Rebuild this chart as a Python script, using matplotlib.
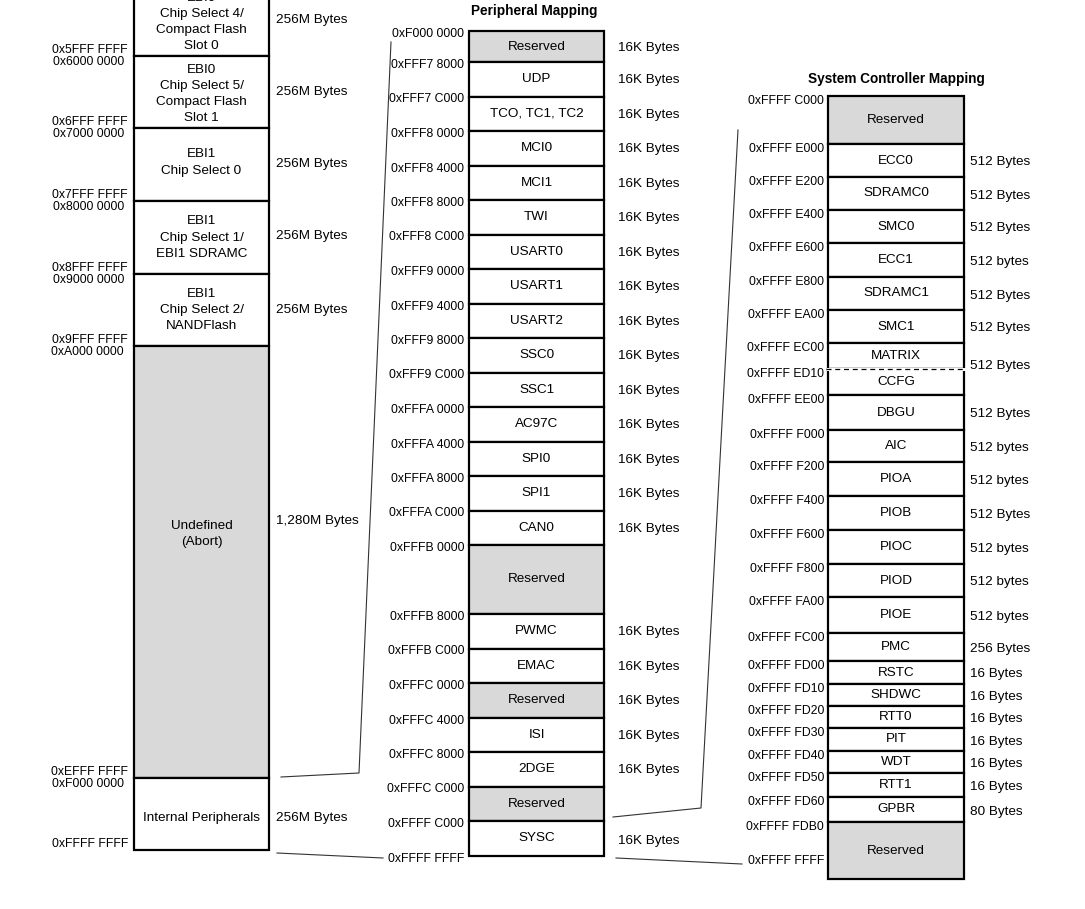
import matplotlib
matplotlib.use('Agg')
import matplotlib.pyplot as plt
from matplotlib.patches import Rectangle

plt.rcParams['font.family'] = ['Liberation Sans', 'DejaVu Sans']

# ---------------- data ----------------
# overall memory map (left column)
left_names = ['EBI0\nChip Select 4/\nCompact Flash\nSlot 0',
              'EBI0\nChip Select 5/\nCompact Flash\nSlot 1',
              'EBI1\nChip Select 0',
              'EBI1\nChip Select 1/\nEBI1 SDRAMC',
              'EBI1\nChip Select 2/\nNANDFlash',
              'Undefined\n(Abort)',
              'Internal Peripherals']
left_sizes = ['256M Bytes', '256M Bytes', '256M Bytes', '256M Bytes',
              '256M Bytes', '1,280M Bytes', '256M Bytes']
left_reserved = [False, False, False, False, False, True, False]
left_start = ['', '0x6000 0000', '0x7000 0000', '0x8000 0000',
              '0x9000 0000', '0xA000 0000', '0xF000 0000']
left_end = ['0x5FFF FFFF', '0x6FFF FFFF', '0x7FFF FFFF', '0x8FFF FFFF',
            '0x9FFF FFFF', '0xEFFF FFFF', '0xFFFF FFFF']

# peripheral mapping (middle column)
periph_names = ['Reserved', 'UDP', 'TCO, TC1, TC2', 'MCI0', 'MCI1', 'TWI',
                'USART0', 'USART1', 'USART2', 'SSC0', 'SSC1', 'AC97C',
                'SPI0', 'SPI1', 'CAN0', 'Reserved', 'PWMC', 'EMAC',
                'Reserved', 'ISI', '2DGE', 'Reserved', 'SYSC']
periph_start = ['0xF000 0000', '0xFFF7 8000', '0xFFF7 C000', '0xFFF8 0000',
                '0xFFF8 4000', '0xFFF8 8000', '0xFFF8 C000', '0xFFF9 0000',
                '0xFFF9 4000', '0xFFF9 8000', '0xFFF9 C000', '0xFFFA 0000',
                '0xFFFA 4000', '0xFFFA 8000', '0xFFFA C000', '0xFFFB 0000',
                '0xFFFB 8000', '0xFFFB C000', '0xFFFC 0000', '0xFFFC 4000',
                '0xFFFC 8000', '0xFFFC C000', '0xFFFF C000']
periph_last = '0xFFFF FFFF'
periph_sizes = ['16K Bytes'] * 15 + [''] + ['16K Bytes'] * 5 + ['', '16K Bytes']

# system controller mapping (right column)
sys_names = ['Reserved', 'ECC0', 'SDRAMC0', 'SMC0', 'ECC1', 'SDRAMC1', 'SMC1',
             'MATRIX', 'CCFG', 'DBGU', 'AIC', 'PIOA', 'PIOB', 'PIOC', 'PIOD',
             'PIOE', 'PMC', 'RSTC', 'SHDWC', 'RTT0', 'PIT', 'WDT', 'RTT1',
             'GPBR', 'Reserved']
sys_start = ['0xFFFF C000', '0xFFFF E000', '0xFFFF E200', '0xFFFF E400',
             '0xFFFF E600', '0xFFFF E800', '0xFFFF EA00', '0xFFFF EC00',
             '0xFFFF ED10', '0xFFFF EE00', '0xFFFF F000', '0xFFFF F200',
             '0xFFFF F400', '0xFFFF F600', '0xFFFF F800', '0xFFFF FA00',
             '0xFFFF FC00', '0xFFFF FD00', '0xFFFF FD10', '0xFFFF FD20',
             '0xFFFF FD30', '0xFFFF FD40', '0xFFFF FD50', '0xFFFF FD60',
             '0xFFFF FDB0']
sys_last = '0xFFFF FFFF'
# None = shares the size label of the row above (MATRIX + CCFG)
sys_sizes = ['', '512 Bytes', '512 Bytes', '512 Bytes', '512 bytes',
             '512 Bytes', '512 Bytes', '512 Bytes', None, '512 Bytes',
             '512 bytes', '512 bytes', '512 Bytes', '512 bytes', '512 bytes',
             '512 bytes', '256 Bytes', '16 Bytes', '16 Bytes', '16 Bytes',
             '16 Bytes', '16 Bytes', '16 Bytes', '80 Bytes', '']

# ---------------- layout (pixels) ----------------
left_h = [72, 72, 73, 73, 72, 432, 72]
left_dy = [2, 2, -2, 0, 0, -28, 4]      # label shift inside the boxes
left_size_dy = [0, 0, -1, -2, 0, -41, 4]
mid_h = [31] + [34.5] * 14 + [69] + [34.5] * 7
right_h = [48, 33, 33, 33, 34, 33, 33, 26, 26, 35, 32, 34, 34, 34, 33, 36,
           28, 23, 22, 22, 23, 22, 24, 25, 57]

GRAY = '#d9d9d9'
FS = 9.7      # box labels / sizes
FA = 8.8      # addresses
LW = 1.6

fig = plt.figure(figsize=(10.85, 9.09), dpi=100)
ax = fig.add_axes([0, 0, 1, 1])
ax.set_xlim(0, 1085)
ax.set_ylim(909, 0)
ax.axis('off')


def column(x0, width, y0, heights, names, gray, dy=None):
    tops = [y0]
    for h in heights:
        tops.append(tops[-1] + h)
    for i, name in enumerate(names):
        ax.add_patch(Rectangle((x0, tops[i]), width, heights[i],
                               facecolor=GRAY if gray[i] else 'white',
                               edgecolor='black', lw=LW))
        shift = dy[i] if dy else 0
        ax.text(x0 + width / 2, tops[i] + heights[i] / 2 + shift, name,
                ha='center', va='center', fontsize=FS, linespacing=1.45)
    return tops


# left column
lt = column(134, 135, -16, left_h, left_names, left_reserved, left_dy)
for i, s in enumerate(left_sizes):
    ax.text(276, lt[i] + left_h[i] / 2 + left_size_dy[i], s,
            ha='left', va='center', fontsize=FS)
for i in range(len(left_names)):
    ax.text(128, lt[i + 1] - 6, left_end[i], ha='right', va='center', fontsize=FA)
    if left_start[i]:
        ax.text(124, lt[i] + 6, left_start[i], ha='right', va='center', fontsize=FA)

# middle column
mt = column(469, 135, 31, mid_h, periph_names,
            [n == 'Reserved' for n in periph_names])
ax.text(534, 11, 'Peripheral Mapping', ha='center', va='center',
        fontsize=9.8, fontweight='bold')
for i, s in enumerate(periph_sizes):
    if s:
        off = 3 if i == len(periph_sizes) - 1 else 1
        ax.text(618, mt[i] + mid_h[i] / 2 + off, s, ha='left', va='center',
                fontsize=FS)
for i, a in enumerate(periph_start):
    ax.text(464, mt[i] + 3, a, ha='right', va='center', fontsize=FA)
ax.text(464, mt[-1] + 3, periph_last, ha='right', va='center', fontsize=FA)

# right column
rt = column(828, 136, 96, right_h, sys_names,
            [n == 'Reserved' for n in sys_names])
ax.text(896, 79, 'System Controller Mapping', ha='center', va='center',
        fontsize=9.8, fontweight='bold')
for i, s in enumerate(sys_sizes):
    if s is None or s == '':
        continue
    if i + 1 < len(sys_sizes) and sys_sizes[i + 1] is None:
        y = rt[i + 1] - 3
    else:
        y = rt[i] + right_h[i] / 2 + 2
    ax.text(970, y, s, ha='left', va='center', fontsize=FS)
for i, a in enumerate(sys_start):
    ax.text(824, rt[i] + 5, a, ha='right', va='center', fontsize=FA)
ax.text(748, 861, sys_last, ha='left', va='center', fontsize=FA)

# dashed separator between MATRIX and CCFG (drawn over the solid edge)
k = sys_names.index('CCFG')
ax.plot([828, 964], [rt[k], rt[k]], color='white', lw=LW + 0.6, zorder=3)
ax.plot([826, 964], [rt[k], rt[k]], color='black', lw=0.9,
        ls=(0, (4, 3)), zorder=4)

# zoom connector lines
conn = dict(color='#333333', lw=0.8)
ax.plot([281, 359, 391], [777, 773, 42], **conn)
ax.plot([277, 383], [853, 858], **conn)
ax.plot([613, 701, 738], [817, 808, 130], **conn)
ax.plot([616, 742], [858, 864], **conn)

fig.savefig('out.png', dpi=100)
